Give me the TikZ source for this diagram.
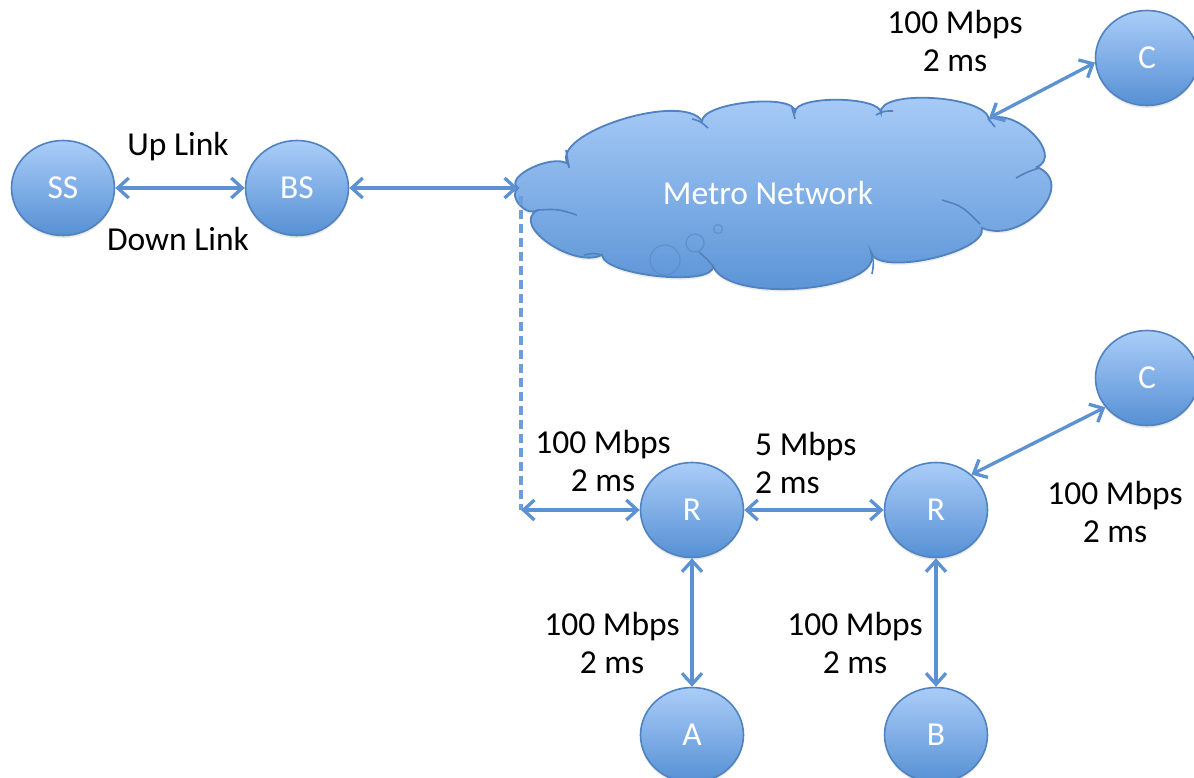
\documentclass[tikz,border=0pt]{standalone}
\usepackage{fontspec}
\setmainfont{Carlito}
\usetikzlibrary{arrows.meta,shapes.geometric,shadows}

\definecolor{edgeblue}{RGB}{92,146,210}
\definecolor{rimblue}{RGB}{80,130,192}
\definecolor{lightfill}{RGB}{170,205,248}
\definecolor{darkfill}{RGB}{86,144,212}
\definecolor{dashblue}{RGB}{108,158,220}

\begin{document}
\begin{tikzpicture}[x=1pt,y=-1pt,
  font=\fontsize{33.5}{38}\selectfont,
  host/.style={ellipse, minimum width=103pt, minimum height=95pt, inner sep=0pt,
    top color=lightfill, bottom color=darkfill, draw=rimblue, line width=1.6pt,
    text=white, drop shadow={opacity=0.18, shadow xshift=0pt, shadow yshift=-2.5pt}},
  link/.style={draw=edgeblue, line width=3.3pt,
    {Straight Barb[length=11pt,width=20pt]}-{Straight Barb[length=11pt,width=20pt]}},
  tap/.style={draw=dashblue, line width=3.2pt, dash pattern=on 9pt off 5pt},
  rate/.style={align=center, text=black, inner sep=0pt},
  cloudbody/.style={top color=lightfill, bottom color=darkfill, draw=rimblue, line width=1.8pt,
    drop shadow={opacity=0.15, shadow xshift=0pt, shadow yshift=-2.5pt}},
  fold/.style={draw=rimblue, line width=1.6pt},
  bubble/.style={draw=rimblue, line width=1.2pt, opacity=0.55},
]
\useasboundingbox (0,0) rectangle (1194,778);

% metro cloud outline
\path[cloudbody] (518,188)
  .. controls (503,177) and (553,153) .. (568,164)
  .. controls (548,134) and (682,91) .. (702,121)
  .. controls (703,102) and (796,93) .. (795,112)
  .. controls (795,95) and (881,96) .. (881,113)
  .. controls (877,89) and (985,95) .. (989,119)
  .. controls (1016,107) and (1064,155) .. (1037,167)
  .. controls (1078,184) and (1023,245) .. (982,228)
  .. controls (987,253) and (876,277) .. (871,252)
  .. controls (886,291) and (728,305) .. (713,266)
  .. controls (715,287) and (604,276) .. (602,255)
  .. controls (573,269) and (509,224) .. (538,210)
  .. controls (527,218) and (507,196) .. (518,188) -- cycle;

% inner folds of the cloud
\draw[fold] (566,150) .. controls (567,156) .. (569,168);
\draw[fold] (692,119) .. controls (700,121) .. (708,128);
\draw[fold] (792,108) .. controls (794,113) .. (795,119);
\draw[fold] (876,115) .. controls (884,111) .. (893,111);
\draw[fold] (988,119) .. controls (991,122) .. (995,127);
\draw[fold] (1016,178) .. controls (1027,172) .. (1039,168);
\draw[fold] (942,200) .. controls (962,206) .. (980,224);
\draw[fold] (871,252) .. controls (874,262) .. (872,274);
\draw[fold] (713,266) .. controls (707,259) .. (699,252);
\draw[fold] (602,255) .. controls (594,253) .. (584,255);
\draw[fold] (538,210) .. controls (558,209) .. (577,215);

% thought bubbles
\draw[bubble] (665,260) circle (15);
\draw[bubble] (695,243) circle (9);
\draw[bubble] (718,229) circle (4.5);

\node[text=white, inner sep=0pt] (metro) at (768,193) {Metro Network};

% attachment points on the cloud
\coordinate (cLeft) at (518,188);
\coordinate (cTop) at (989,118);
\coordinate (drop) at (521,196);
\coordinate (corner) at (521,510);

% hosts and routers
\node[host] (SS) at (63,188) {SS};
\node[host] (BS) at (297,188) {BS};
\node[host] (C1) at (1147,58) {C};
\node[host] (C2) at (1147,378) {C};
\node[host] (R1) at (692,510) {R};
\node[host] (R2) at (936,510) {R};
\node[host] (A) at (692,735) {A};
\node[host] (B) at (936,735) {B};

% links
\draw[link] (SS) -- (BS);
\draw[link] (BS) -- (cLeft);
\draw[link] (C1.185) -- (cTop);
\draw[tap] (drop) -- (corner);
\draw[link] (corner) -- (R1);
\draw[link] (R1) -- (R2);
\draw[link] (C2.215) -- (R2.45);
\draw[link] (R1) -- (A);
\draw[link] (R2) -- (B);

% labels
\node[rate] (up) at (178,147) {Up Link};
\node[rate] (down) at (178,239) {Down Link};
\node[rate] (l1) at (955,41) {100 Mbps\\2 ms};
\node[rate] (l2) at (603,461) {100 Mbps\\2 ms};
\node[rate, anchor=west, align=left] (l3) at (755,463) {5 Mbps\\2 ms};
\node[rate] (l4) at (1115,512) {100 Mbps\\2 ms};
\node[rate] (l5) at (612,643) {100 Mbps\\2 ms};
\node[rate] (l6) at (855,643) {100 Mbps\\2 ms};
\end{tikzpicture}
\end{document}
